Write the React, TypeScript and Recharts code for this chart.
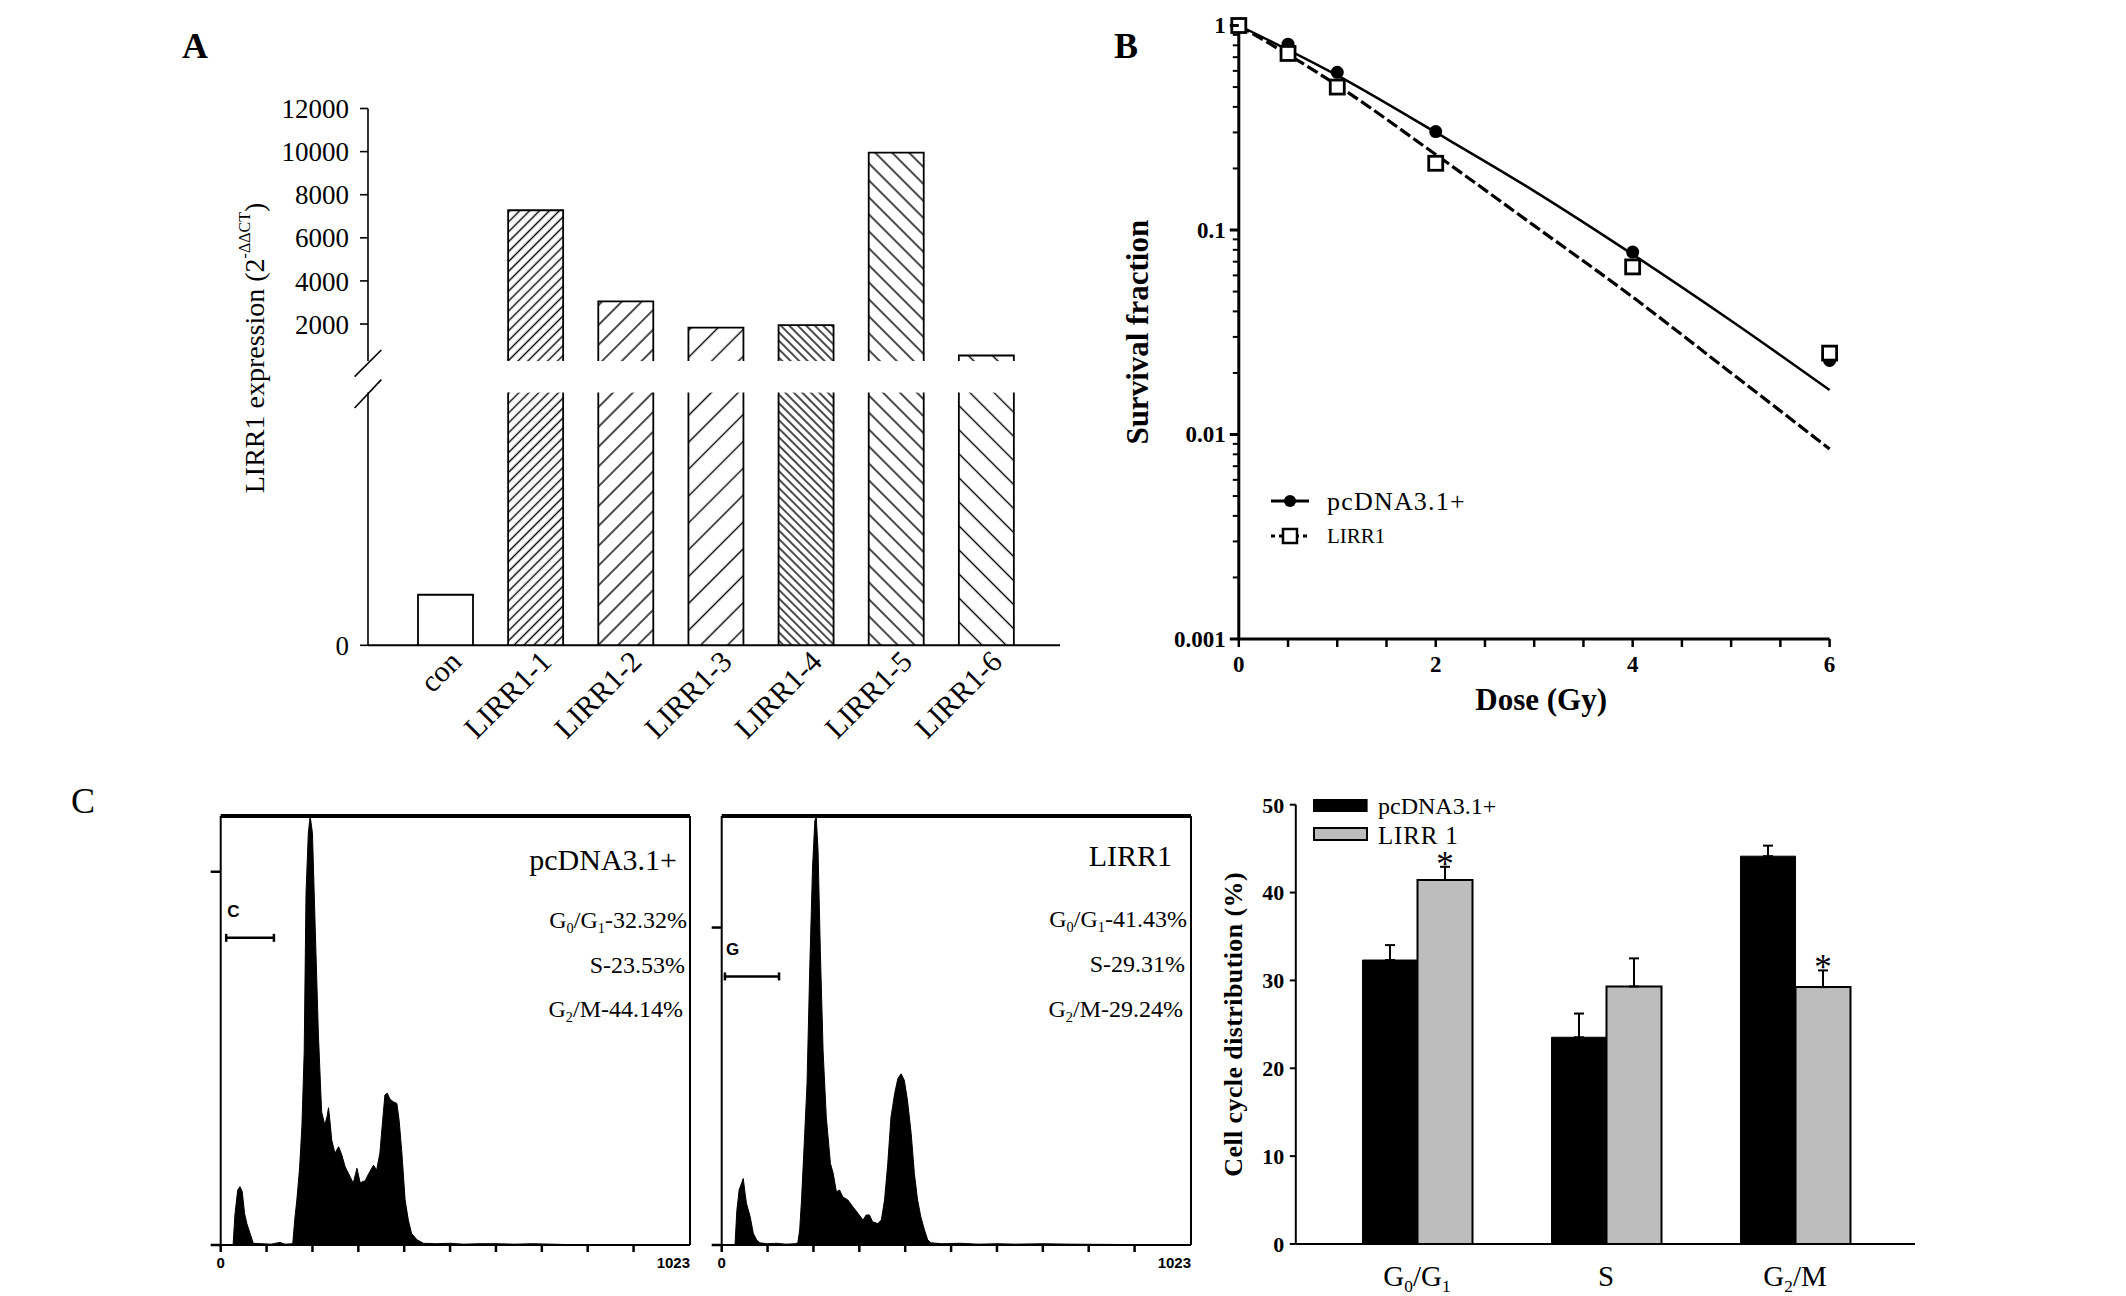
import React from "react";
import {
  BarChart,
  Bar,
  XAxis,
  YAxis,
  ComposedChart,
  Line,
  Scatter,
  Legend,
  AreaChart,
  Area,
  ReferenceLine,
  ErrorBar,
  LabelList,
} from "recharts";

const SERIF = '"Liberation Serif", "Times New Roman", serif';
const SANS = '"Liberation Sans", Arial, sans-serif';

// ---------- A: LIRR1 expression (broken y axis) ----------
const clones = ["con", "LIRR1-1", "LIRR1-2", "LIRR1-3", "LIRR1-4", "LIRR1-5", "LIRR1-6"];
const expression = [1, 7280, 3050, 1830, 1950, 9950, 540];
const upperTicks = [2000, 4000, 6000, 8000, 10000, 12000];
const LOWER_TOP = 5; // top of the lower segment
const UPPER_BOTTOM = 280; // bottom of the upper segment

// ---------- B: survival curves ----------
const doses = [0, 0.5, 1, 2, 4, 6];
const sfPcdna = [1, 0.81, 0.59, 0.303, 0.078, 0.023];
const sfLirr = [1, 0.73, 0.5, 0.212, 0.066, 0.025];
const fitDoses = [0, 1, 2, 3, 4, 5, 6];
const fitPcdna = [1, 0.57, 0.3, 0.155, 0.076, 0.036, 0.0165];
const fitLirr = [1, 0.51, 0.234, 0.105, 0.047, 0.02, 0.0085];
const logDecades = [0.001, 0.01, 0.1, 1];
const doseTicks = [0, 0.5, 1, 1.5, 2, 2.5, 3, 3.5, 4, 4.5, 5, 5.5, 6];

// ---------- C: DNA content histograms ----------
const pcChannels = [0, 27, 31, 37, 42, 47, 52, 57, 64, 71, 90, 110, 129, 140, 157, 162, 166, 172, 177, 182, 186, 191, 195, 200, 206, 213, 220, 227, 232, 235, 239, 242, 249, 257, 264, 271, 282, 289, 297, 304, 315, 322, 333, 340, 347, 353, 358, 363, 369, 376, 384, 389, 395, 402, 409, 416, 428, 442, 470, 500, 530, 560, 600, 640, 680, 720, 800, 1023];
const pcCounts = [0, 0, 7, 12.8, 13.6, 12.4, 7.4, 5, 2.7, 0.4, 0.3, 0.2, 0.6, 0.2, 0.3, 6.6, 10.5, 18, 27.6, 45, 82, 96, 100, 96, 74, 49, 31, 28, 30, 32, 28, 24.5, 21.4, 22.9, 21, 18.3, 15.9, 14.4, 17.9, 14.5, 15, 16.5, 18.6, 17.5, 21.4, 29, 35, 35.4, 34, 33.4, 33, 29, 21.4, 10.5, 5.8, 2.7, 1.2, 0.4, 0.3, 0.4, 0.2, 0.3, 0.3, 0.2, 0.3, 0.2, 0, 0];
const lirrChannels = [0, 29, 33, 38, 43, 47, 51, 54, 62, 69, 76, 83, 100, 120, 140, 160, 166, 170, 174, 181, 186, 192, 198, 203, 206, 210, 215, 221, 228, 237, 243, 250, 257, 264, 275, 286, 297, 308, 315, 322, 329, 340, 348, 355, 362, 369, 377, 384, 391, 398, 405, 413, 420, 427, 434, 442, 449, 456, 480, 520, 560, 600, 640, 700, 760, 1023];
const lirrCounts = [0, 0, 8, 12.8, 14.3, 15.5, 12, 9.7, 6.6, 2.7, 1.2, 0.5, 0.3, 0.4, 0.2, 0.3, 0.5, 3.5, 10.5, 26, 37.6, 64.7, 88, 98.8, 100, 91.9, 68.6, 45.3, 29.8, 19, 16.7, 12.4, 12.8, 11.2, 10.5, 8.9, 7.4, 5.8, 7, 7, 5.4, 5, 5.8, 10.5, 19, 29.8, 35.3, 38.8, 39.9, 38.4, 33.7, 26, 16.7, 10.5, 6.6, 3.5, 1.2, 0.5, 0.3, 0.4, 0.2, 0.3, 0.2, 0.3, 0.2, 0];
const channelTicks = [0, 100, 200, 300, 400, 500, 600, 700, 800, 900, 1023];
const pcGate = [12, 116, 71.6];
const lirrGate = [7, 125, 62.6];

// ---------- C: cell cycle distribution ----------
const phases = ["G0/G1", "S", "G2/M"];
const pcPhase = [32.32, 23.53, 44.14];
const pcPhaseErr = [1.7, 2.7, 1.2];
const lirrPhase = [41.43, 29.31, 29.24];
const lirrPhaseErr = [1.5, 3.2, 1.9];
const lirrSig = ["*", "", "*"];
const phaseTicks = [0, 10, 20, 30, 40, 50];

// hatch styles for the clone bars (con is plain white)
const HATCHES = [
  null,
  { angle: 45, gap: 7 },
  { angle: 45, gap: 14 },
  { angle: 45, gap: 19 },
  { angle: -45, gap: 6 },
  { angle: -45, gap: 12 },
  { angle: -45, gap: 17 },
];
const hatchFill = (i: number) => (HATCHES[i] ? `url(#hatch-${i})` : "#fff");

// subscript digits after G (G0/G1, G2/M)
function subText(text: string, fs: number) {
  const nodes: React.ReactNode[] = [];
  let pending = 0;
  let k = 0;
  for (const part of text.split(/(G\d)/)) {
    if (!part) continue;
    const m = part.match(/^G(\d)$/);
    if (m) {
      nodes.push(<tspan key={k++} dy={pending || undefined}>G</tspan>);
      nodes.push(<tspan key={k++} dy={fs * 0.2} fontSize={fs * 0.6}>{m[1]}</tspan>);
      pending = -fs * 0.2;
    } else {
      nodes.push(<tspan key={k++} dy={pending || undefined}>{part}</tspan>);
      pending = 0;
    }
  }
  return nodes;
}

function PatternDefs() {
  return (
    <svg width={0} height={0} style={{ position: "absolute" }}>
      <defs>
        {HATCHES.map((h, i) =>
          h ? (
            <pattern
              key={i}
              id={`hatch-${i}`}
              patternUnits="userSpaceOnUse"
              width={h.gap}
              height={h.gap}
              patternTransform={`rotate(${h.angle})`}
            >
              <rect width={h.gap} height={h.gap} fill="#fff" />
              <line x1={h.gap / 2} y1={-1} x2={h.gap / 2} y2={h.gap + 1} stroke="#000" strokeWidth={1.4} />
            </pattern>
          ) : null
        )}
      </defs>
    </svg>
  );
}

// ---------- Panel A ----------
const expressionRows = clones.map((name, i) => ({
  name,
  raw: expression[i],
  upper: expression[i] > UPPER_BOTTOM ? expression[i] : null,
  lower: Math.min(expression[i], LOWER_TOP),
}));

const UpperBarShape = (p: any) => {
  const { x, y, width, height, payload } = p;
  if (!height || height <= 0) return null;
  const i = clones.indexOf(payload.name);
  return (
    <g>
      <rect x={x} y={y} width={width} height={height} fill={hatchFill(i)} />
      <path d={`M${x},${y + height} V${y} H${x + width} V${y + height}`} fill="none" stroke="#000" strokeWidth={1.8} />
    </g>
  );
};

const LowerBarShape = (p: any) => {
  const { x, y, width, height, payload } = p;
  if (!height || height <= 0) return null;
  const i = clones.indexOf(payload.name);
  const closed = payload.raw <= LOWER_TOP;
  const d = closed
    ? `M${x},${y + height} V${y} H${x + width} V${y + height}`
    : `M${x},${y} V${y + height} M${x + width},${y} V${y + height}`;
  return (
    <g>
      <rect x={x} y={y} width={width} height={height} fill={hatchFill(i)} />
      <path d={d} fill="none" stroke="#000" strokeWidth={1.8} />
    </g>
  );
};

const CloneTick = (p: any) => {
  const ax = p.x + 18;
  const ay = p.y + 18;
  return (
    <text x={ax} y={ay} transform={`rotate(-45 ${ax} ${ay})`} textAnchor="end" fontFamily={SERIF} fontSize={30} fill="#000">
      {p.payload.value}
    </text>
  );
};

const aTick = { fontFamily: SERIF, fontSize: 27, fill: "#000" };
const A_PAD = { left: 32, right: 29 };

function ExpressionPanel() {
  return (
    <>
      <div style={{ position: "absolute", left: 200, top: 80 }}>
        <BarChart width={900} height={300} data={expressionRows} barSize={55} margin={{ top: 28.5, right: 40, bottom: 18.9, left: 0 }}>
          <XAxis dataKey="name" hide padding={A_PAD} />
          <YAxis
            type="number"
            domain={[UPPER_BOTTOM, 12000]}
            ticks={upperTicks}
            interval={0}
            width={168}
            tickSize={8}
            tickMargin={11}
            tick={aTick}
            axisLine={{ stroke: "#000", strokeWidth: 1.6 }}
            tickLine={{ stroke: "#000", strokeWidth: 1.6 }}
          />
          <Bar dataKey="upper" shape={UpperBarShape} isAnimationActive={false} />
        </BarChart>
      </div>
      <div style={{ position: "absolute", left: 200, top: 380 }}>
        <BarChart width={900} height={420} data={expressionRows} barSize={55} margin={{ top: 12.6, right: 40, bottom: 0, left: 0 }}>
          <XAxis
            dataKey="name"
            padding={A_PAD}
            height={154.7}
            interval={0}
            tickLine={false}
            tickSize={0}
            tickMargin={0}
            tick={<CloneTick />}
            axisLine={{ stroke: "#000", strokeWidth: 2 }}
          />
          <YAxis
            type="number"
            domain={[0, LOWER_TOP]}
            ticks={[0]}
            interval={0}
            width={168}
            tickSize={8}
            tickMargin={11}
            tick={aTick}
            axisLine={{ stroke: "#000", strokeWidth: 1.6 }}
            tickLine={{ stroke: "#000", strokeWidth: 1.6 }}
          />
          <Bar dataKey="lower" shape={LowerBarShape} isAnimationActive={false} />
        </BarChart>
      </div>
    </>
  );
}

// ---------- Panel B ----------
const toPoints = (xs: number[], ys: number[]) => xs.map((d, i) => ({ dose: d, sf: ys[i] }));
const logTicks = [
  ...logDecades.slice(0, 3).flatMap((d) => [1, 2, 3, 4, 5, 6, 7, 8, 9].map((m) => m * d)),
  1,
];

const LogTick = (p: any) => {
  const v = p.payload.value;
  const major = logDecades.some((d) => Math.abs(d - v) < d * 1e-6);
  return (
    <g>
      <line x1={p.x} x2={p.x - (major ? 9 : 6)} y1={p.y} y2={p.y} stroke="#000" strokeWidth={major ? 3 : 2} />
      {major && (
        <text x={p.x - 13} y={p.y} textAnchor="end" dominantBaseline="central" fontFamily={SERIF} fontWeight="bold" fontSize={23} fill="#000">
          {String(v)}
        </text>
      )}
    </g>
  );
};

const DoseTick = (p: any) => {
  const v = p.payload.value;
  const labelled = Number.isInteger(v) && v % 2 === 0;
  return (
    <g>
      <line x1={p.x} x2={p.x} y1={p.y} y2={p.y + 8} stroke="#000" strokeWidth={2.5} />
      {labelled && (
        <text x={p.x} y={p.y + 25} textAnchor="middle" dominantBaseline="central" fontFamily={SERIF} fontWeight="bold" fontSize={23} fill="#000">
          {v}
        </text>
      )}
    </g>
  );
};

const YTitle = (p: any) => {
  const vb = p.viewBox;
  const cx = vb.x + vb.width - p.gap;
  const cy = vb.y + vb.height / 2;
  return (
    <text
      x={cx}
      y={cy}
      transform={`rotate(-90 ${cx} ${cy})`}
      textAnchor="middle"
      dominantBaseline="central"
      fontFamily={SERIF}
      fontWeight="bold"
      fontSize={p.size}
      letterSpacing={p.spacing || 0}
      fill="#000"
    >
      {p.text}
    </text>
  );
};

const XTitle = (p: any) => {
  const vb = p.viewBox;
  return (
    <text x={vb.x + vb.width / 2 + p.shift} y={vb.y + p.gap} textAnchor="middle" dominantBaseline="central" fontFamily={SERIF} fontWeight="bold" fontSize={p.size} fill="#000">
      {p.text}
    </text>
  );
};

const SurvivalLegend = () => (
  <svg width={300} height={80} style={{ overflow: "visible" }}>
    <line x1={0} x2={38} y1={20} y2={20} stroke="#000" strokeWidth={3} />
    <circle cx={19} cy={20} r={6} fill="#000" />
    <text x={56} y={20} dominantBaseline="central" fontFamily={SERIF} fontSize={26} letterSpacing={1.2} fill="#000">pcDNA3.1+</text>
    <line x1={0} x2={38} y1={55} y2={55} stroke="#000" strokeWidth={3} strokeDasharray="4 4" />
    <rect x={12} y={48} width={14} height={14} fill="#fff" stroke="#000" strokeWidth={2.5} />
    <text x={56} y={55} dominantBaseline="central" fontFamily={SERIF} fontSize={21} fill="#000">LIRR1</text>
  </svg>
);

function SurvivalPanel() {
  return (
    <div style={{ position: "absolute", left: 1100, top: 0 }}>
      <ComposedChart width={800} height={760} margin={{ top: 25.5, right: 70.4, bottom: 0, left: 0 }}>
        <XAxis
          dataKey="dose"
          type="number"
          domain={[0, 6]}
          ticks={doseTicks}
          interval={0}
          height={121}
          tickSize={0}
          tickMargin={0}
          tickLine={false}
          tick={<DoseTick />}
          axisLine={{ stroke: "#000", strokeWidth: 3 }}
          label={<XTitle text="Dose (Gy)" gap={60} shift={7} size={31} />}
        />
        <YAxis
          dataKey="sf"
          type="number"
          scale="log"
          domain={[0.001, 1]}
          ticks={logTicks}
          interval={0}
          width={138.8}
          tickSize={0}
          tickMargin={0}
          tickLine={false}
          tick={<LogTick />}
          axisLine={{ stroke: "#000", strokeWidth: 3 }}
          label={<YTitle text="Survival fraction" gap={101} size={31} />}
        />
        <Line data={toPoints(fitDoses, fitPcdna)} dataKey="sf" type="monotone" stroke="#000" strokeWidth={2.5} dot={false} activeDot={false} isAnimationActive={false} />
        <Line data={toPoints(fitDoses, fitLirr)} dataKey="sf" type="monotone" stroke="#000" strokeWidth={3.2} strokeDasharray="12 4" dot={false} activeDot={false} isAnimationActive={false} />
        <Scatter
          data={toPoints(doses, sfPcdna)}
          dataKey="sf"
          isAnimationActive={false}
          shape={(p: any) => <circle cx={p.cx} cy={p.cy} r={6.5} fill="#000" />}
        />
        <Scatter
          data={toPoints(doses, sfLirr)}
          dataKey="sf"
          isAnimationActive={false}
          shape={(p: any) => <rect x={p.cx - 7} y={p.cy - 7} width={14} height={14} fill="#fff" stroke="#000" strokeWidth={2.8} />}
        />
        <Legend
          layout="vertical"
          align="center"
          verticalAlign="middle"
          content={<SurvivalLegend />}
          wrapperStyle={{ left: 171, top: 481, width: 300, height: 80 }}
        />
      </ComposedChart>
    </div>
  );
}

// ---------- Panel C histograms ----------
const ChannelTick = (p: any) => {
  const v = p.payload.value;
  return (
    <g>
      {v < 1000 && <line x1={p.x} x2={p.x} y1={p.y} y2={p.y + 7} stroke="#000" strokeWidth={2.5} />}
      {(v === 0 || v === 1023) && (
        <text x={p.x} y={p.y + 17} textAnchor={v === 0 ? "middle" : "end"} dominantBaseline="central" fontFamily={SANS} fontWeight="bold" fontSize={15} fill="#000">
          {v}
        </text>
      )}
    </g>
  );
};

const gateShape = (label: string) => (p: any) => {
  const { x1, y1, x2, y2 } = p;
  return (
    <g>
      <line x1={x1} y1={y1} x2={x2} y2={y2} stroke="#000" strokeWidth={2.5} />
      <line x1={x1} y1={y1 - 4} x2={x1} y2={y1 + 4} stroke="#000" strokeWidth={2.5} />
      <line x1={x2} y1={y2 - 4} x2={x2} y2={y2 + 4} stroke="#000" strokeWidth={2.5} />
      <text x={x1 + 1} y={y1 - 21} fontFamily={SANS} fontWeight="bold" fontSize={17} fill="#000">
        {label}
      </text>
    </g>
  );
};

function Histogram(props: { left: number; channels: number[]; counts: number[]; yTick: number; gate: number[]; gateLabel: string }) {
  const rows = props.channels.map((c, i) => ({ ch: c, n: props.counts[i] }));
  const [g0, g1, gy] = props.gate;
  return (
    <div style={{ position: "absolute", left: props.left, top: 790 }}>
      <AreaChart width={580} height={500} data={rows} margin={{ top: 26, right: 40, bottom: 0, left: 0 }}>
        <XAxis
          dataKey="ch"
          type="number"
          domain={[0, 1023]}
          ticks={channelTicks}
          interval={0}
          height={45}
          tickSize={0}
          tickMargin={0}
          tickLine={false}
          tick={<ChannelTick />}
          axisLine={{ stroke: "#000", strokeWidth: 2 }}
        />
        <YAxis
          type="number"
          domain={[0, 100]}
          ticks={[0, props.yTick]}
          interval={0}
          width={70.7}
          tickSize={10}
          tick={() => <g />}
          axisLine={{ stroke: "#000", strokeWidth: 2 }}
          tickLine={{ stroke: "#000", strokeWidth: 2.5 }}
        />
        <Area dataKey="n" type="linear" stroke="#000" strokeWidth={1} fill="#000" fillOpacity={1} dot={false} activeDot={false} isAnimationActive={false} />
        <ReferenceLine y={100} stroke="#000" strokeWidth={4} />
        <ReferenceLine x={1023} stroke="#000" strokeWidth={2} />
        <ReferenceLine
          segment={[
            { x: g0, y: gy },
            { x: g1, y: gy },
          ]}
          shape={gateShape(props.gateLabel)}
        />
      </AreaChart>
    </div>
  );
}

// ---------- Panel C bars ----------
const phaseRows = phases.map((p, i) => ({
  phase: p,
  pc: pcPhase[i],
  pcErr: [0, pcPhaseErr[i]],
  lirr: lirrPhase[i],
  lirrErr: [0, lirrPhaseErr[i]],
  sig: lirrSig[i],
}));

const StarLabel = (p: any) => {
  const vb = p.viewBox || p;
  const i = p.index;
  if (!p.value) return null;
  const perUnit = vb.height / lirrPhase[i];
  const top = vb.y - lirrPhaseErr[i] * perUnit;
  return (
    <text x={vb.x + vb.width / 2} y={top + 9} textAnchor="middle" fontFamily={SERIF} fontSize={35} fill="#000">
      {p.value}
    </text>
  );
};

const PhaseTick = (p: any) => (
  <text x={p.x} y={p.y + 42} textAnchor="middle" fontFamily={SERIF} fontSize={29} fill="#000">
    {subText(p.payload.value, 29)}
  </text>
);

const PhaseLegend = () => (
  <svg width={320} height={70} style={{ overflow: "visible" }}>
    <rect x={0} y={2} width={54.6} height={13} fill="#000" />
    <text x={65} y={8.5} dominantBaseline="central" fontFamily={SERIF} fontSize={24} fill="#000">pcDNA3.1+</text>
    <rect x={1} y={31} width={53} height={12} fill="#bdbdbd" stroke="#000" strokeWidth={2} />
    <text x={65} y={38} dominantBaseline="central" fontFamily={SERIF} fontSize={25} letterSpacing={0.8} fill="#000">LIRR 1</text>
  </svg>
);

function PhasePanel() {
  return (
    <div style={{ position: "absolute", left: 1200, top: 770 }}>
      <BarChart width={760} height={526} data={phaseRows} barSize={55} barGap={0} margin={{ top: 34.7, right: 45, bottom: 0, left: 0 }}>
        <XAxis
          dataKey="phase"
          padding={{ left: 26.7, right: 25.5 }}
          height={52}
          interval={0}
          tickSize={0}
          tickMargin={0}
          tickLine={false}
          tick={<PhaseTick />}
          axisLine={{ stroke: "#000", strokeWidth: 2 }}
        />
        <YAxis
          type="number"
          domain={[0, 50]}
          ticks={phaseTicks}
          interval={0}
          width={95.8}
          tickSize={6}
          tickMargin={5.5}
          tick={{ fontFamily: SERIF, fontWeight: "bold", fontSize: 22, fill: "#000" }}
          axisLine={{ stroke: "#000", strokeWidth: 2 }}
          tickLine={{ stroke: "#000", strokeWidth: 2 }}
          label={<YTitle text="Cell cycle distribution (%)" gap={62} size={26} spacing={0.4} />}
        />
        <Bar dataKey="pc" fill="#000" stroke="#000" strokeWidth={1} isAnimationActive={false}>
          <ErrorBar dataKey="pcErr" direction="y" width={5} stroke="#000" strokeWidth={2} />
        </Bar>
        <Bar dataKey="lirr" fill="#bdbdbd" stroke="#000" strokeWidth={2} isAnimationActive={false}>
          <ErrorBar dataKey="lirrErr" direction="y" width={5} stroke="#000" strokeWidth={2} />
          <LabelList dataKey="sig" content={<StarLabel />} />
        </Bar>
        <Legend
          layout="vertical"
          align="center"
          verticalAlign="middle"
          content={<PhaseLegend />}
          wrapperStyle={{ left: 112.9, top: 27, width: 320, height: 70 }}
        />
      </BarChart>
    </div>
  );
}

// ---------- letters, titles and notes ----------
const fmt = (v: number) => v.toFixed(2);
const histNotes = [
  { x: 677, y: 870, size: 30, text: "pcDNA3.1+" },
  { x: 687, y: 928, size: 24, text: `G0/G1-${fmt(pcPhase[0])}%` },
  { x: 685, y: 973, size: 24, text: `S-${fmt(pcPhase[1])}%` },
  { x: 683, y: 1017, size: 24, text: `G2/M-${fmt(pcPhase[2])}%` },
  { x: 1172, y: 866, size: 30, text: "LIRR1" },
  { x: 1187, y: 927, size: 24, text: `G0/G1-${fmt(lirrPhase[0])}%` },
  { x: 1185, y: 972, size: 24, text: `S-${fmt(lirrPhase[1])}%` },
  { x: 1183, y: 1017, size: 24, text: `G2/M-${fmt(lirrPhase[2])}%` },
];

function Overlay() {
  return (
    <svg width={2126} height={1296} style={{ position: "absolute", left: 0, top: 0, pointerEvents: "none" }}>
      <text x={195} y={58} textAnchor="middle" fontFamily={SERIF} fontWeight="bold" fontSize={36}>A</text>
      <text x={1126} y={58} textAnchor="middle" fontFamily={SERIF} fontWeight="bold" fontSize={36}>B</text>
      <text x={83} y={813} textAnchor="middle" fontFamily={SERIF} fontSize={36}>C</text>

      <text
        x={254}
        y={348}
        transform="rotate(-90 254 348)"
        textAnchor="middle"
        dominantBaseline="central"
        fontFamily={SERIF}
        fontSize={28}
      >
        LIRR1 expression{"  "}(2
        <tspan dy={-10} fontSize={16}>-ΔΔCT</tspan>
        <tspan dy={10}>)</tspan>
      </text>

      <line x1={354.6} y1={376.6} x2={381.3} y2={350} stroke="#000" strokeWidth={1.6} />
      <line x1={354.6} y1={408} x2={381.3} y2={379.6} stroke="#000" strokeWidth={1.6} />

      {histNotes.map((n, i) => (
        <text key={i} x={n.x} y={n.y} textAnchor="end" fontFamily={SERIF} fontSize={n.size} fill="#000">
          {subText(n.text, n.size)}
        </text>
      ))}
    </svg>
  );
}

export default function App() {
  return (
    <div style={{ position: "absolute", left: 0, top: 0, width: 2126, height: 1296, background: "#fff", overflow: "hidden" }}>
      <PatternDefs />
      <ExpressionPanel />
      <SurvivalPanel />
      <Histogram left={150} channels={pcChannels} counts={pcCounts} yTick={87} gate={pcGate} gateLabel="C" />
      <Histogram left={651} channels={lirrChannels} counts={lirrCounts} yTick={74} gate={lirrGate} gateLabel="G" />
      <PhasePanel />
      <Overlay />
    </div>
  );
}
